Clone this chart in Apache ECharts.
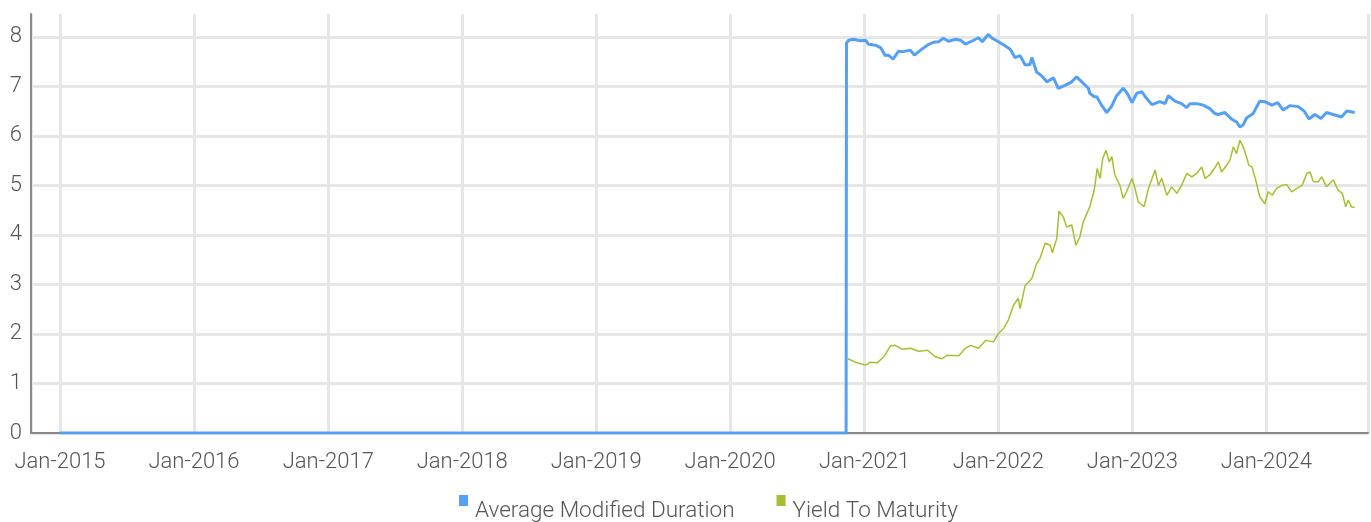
<!DOCTYPE html>
<html>
<head>
<meta charset="utf-8">
<script src="https://cdn.jsdelivr.net/npm/echarts@6/dist/echarts.min.js"></script>
<style>
  html, body { margin: 0; padding: 0; background: #fff; }
  #chart { width: 1371px; height: 522px; }
</style>
</head>
<body>
<div id="chart"></div>
<script>
var seriesNames = ['Average Modified Duration', 'Yield To Maturity']

var durationDates = [
  '2015-01-01', '2020-11-12', '2020-11-13', '2020-11-19', '2020-12-02', '2020-12-21',
  '2021-01-04', '2021-01-12', '2021-01-31', '2021-02-14', '2021-02-27', '2021-03-07',
  '2021-03-20', '2021-04-04', '2021-04-17', '2021-05-06', '2021-05-17', '2021-06-03',
  '2021-06-21', '2021-07-08', '2021-07-22', '2021-08-04', '2021-08-18', '2021-09-06',
  '2021-09-20', '2021-10-03', '2021-10-17', '2021-11-08', '2021-11-18', '2021-12-04',
  '2021-12-15', '2022-01-01', '2022-01-19', '2022-02-02', '2022-02-15', '2022-03-01',
  '2022-03-15', '2022-03-28', '2022-04-02', '2022-04-15', '2022-04-29', '2022-05-13',
  '2022-05-31', '2022-06-13', '2022-07-01', '2022-07-18', '2022-08-02', '2022-08-16',
  '2022-09-03', '2022-09-07', '2022-09-19', '2022-09-26', '2022-10-09', '2022-10-23',
  '2022-11-05', '2022-11-19', '2022-12-07', '2022-12-18', '2022-12-31', '2023-01-13',
  '2023-01-27', '2023-02-05', '2023-02-23', '2023-03-17', '2023-03-31', '2023-04-09',
  '2023-04-27', '2023-05-15', '2023-05-29', '2023-06-07', '2023-06-25', '2023-07-13',
  '2023-07-31', '2023-08-14', '2023-08-23', '2023-09-10', '2023-09-28', '2023-10-12',
  '2023-10-21', '2023-10-30', '2023-11-08', '2023-11-26', '2023-12-14', '2023-12-28',
  '2024-01-16', '2024-02-01', '2024-02-16', '2024-03-05', '2024-03-28', '2024-04-13',
  '2024-04-26', '2024-05-12', '2024-05-29', '2024-06-13', '2024-07-01', '2024-07-24',
  '2024-08-07', '2024-08-29'
]
var durationValues = [
  0, 0, 7.87, 7.93, 7.95, 7.92,
  7.93, 7.85, 7.83, 7.78, 7.62, 7.63,
  7.55, 7.71, 7.70, 7.73, 7.63, 7.73,
  7.83, 7.89, 7.90, 7.97, 7.91, 7.95,
  7.93, 7.85, 7.90, 7.98, 7.90, 8.05,
  7.97, 7.90, 7.82, 7.75, 7.58, 7.62,
  7.43, 7.44, 7.58, 7.29, 7.21, 7.09,
  7.17, 6.96, 7.02, 7.08, 7.19, 7.09,
  6.96, 6.86, 6.79, 6.79, 6.62, 6.47,
  6.59, 6.81, 6.96, 6.86, 6.67, 6.86,
  6.89, 6.79, 6.63, 6.69, 6.65, 6.81,
  6.70, 6.65, 6.57, 6.65, 6.65, 6.62,
  6.55, 6.45, 6.43, 6.47, 6.34, 6.28,
  6.18, 6.22, 6.36, 6.45, 6.70, 6.69,
  6.62, 6.67, 6.52, 6.61, 6.59, 6.50,
  6.34, 6.43, 6.35, 6.47, 6.43, 6.38,
  6.50, 6.47
]

var yieldDates = [
  '2020-11-17', '2020-12-07', '2021-01-04', '2021-01-17', '2021-02-05', '2021-02-23',
  '2021-03-13', '2021-03-26', '2021-04-14', '2021-05-06', '2021-05-29', '2021-06-22',
  '2021-07-13', '2021-08-01', '2021-08-14', '2021-09-15', '2021-10-03', '2021-10-17',
  '2021-10-21', '2021-11-08', '2021-11-27', '2021-12-19', '2022-01-01', '2022-01-15',
  '2022-01-28', '2022-02-11', '2022-02-24', '2022-03-01', '2022-03-15', '2022-04-02',
  '2022-04-15', '2022-04-24', '2022-05-08', '2022-05-22', '2022-05-28', '2022-06-09',
  '2022-06-15', '2022-06-27', '2022-07-06', '2022-07-20', '2022-07-31', '2022-08-11',
  '2022-08-20', '2022-09-03', '2022-09-07', '2022-09-12', '2022-09-18', '2022-09-21',
  '2022-09-27', '2022-10-05', '2022-10-12', '2022-10-21', '2022-10-30', '2022-11-06',
  '2022-11-14', '2022-11-28', '2022-12-07', '2022-12-16', '2022-12-31', '2023-01-08',
  '2023-01-17', '2023-02-02', '2023-02-14', '2023-03-04', '2023-03-13', '2023-03-22',
  '2023-04-05', '2023-04-18', '2023-05-02', '2023-05-15', '2023-05-29', '2023-06-12',
  '2023-06-25', '2023-07-09', '2023-07-18', '2023-07-31', '2023-08-14', '2023-08-23',
  '2023-09-01', '2023-09-15', '2023-09-24', '2023-10-03', '2023-10-12', '2023-10-21',
  '2023-10-30', '2023-11-08', '2023-11-14', '2023-11-23', '2023-12-03', '2023-12-14',
  '2023-12-28', '2024-01-06', '2024-01-17', '2024-01-29', '2024-02-12', '2024-02-25',
  '2024-03-10', '2024-03-24', '2024-04-08', '2024-04-20', '2024-04-29', '2024-05-08',
  '2024-05-21', '2024-05-31', '2024-06-13', '2024-07-01', '2024-07-15', '2024-07-26',
  '2024-08-04', '2024-08-11', '2024-08-20', '2024-08-29'
]
var yieldValues = [
  1.50, 1.43, 1.37, 1.43, 1.42, 1.54,
  1.76, 1.77, 1.69, 1.71, 1.65, 1.67,
  1.54, 1.50, 1.57, 1.56, 1.71, 1.77,
  1.81, 1.71, 1.87, 1.84, 2.01, 2.11,
  2.28, 2.58, 2.72, 2.51, 2.98, 3.12,
  3.42, 3.52, 3.83, 3.79, 3.64, 3.93,
  4.48, 4.36, 4.16, 4.20, 3.79, 3.96,
  4.26, 4.50, 4.57, 4.60, 4.87, 5.00,
  5.34, 5.14, 5.54, 5.71, 5.47, 5.58,
  5.21, 5.00, 4.74, 4.87, 5.14, 4.94,
  4.67, 4.57, 4.94, 5.31, 5.00, 5.14,
  4.80, 4.97, 4.84, 5.00, 5.24, 5.17,
  5.24, 5.37, 5.14, 5.21, 5.36, 5.47,
  5.27, 5.41, 5.51, 5.78, 5.64, 5.91,
  5.78, 5.58, 5.41, 5.37, 5.11, 4.77,
  4.63, 4.87, 4.80, 4.94, 5.00, 5.02,
  4.87, 4.94, 5.00, 5.24, 5.27, 5.08,
  5.07, 5.17, 4.97, 5.11, 4.90, 4.84,
  4.57, 4.70, 4.57, 4.55
]

var yTicks = [0, 1, 2, 3, 4, 5, 6, 7, 8]

function zip (dates, values) {
  var out = []
  for (var i = 0; i < dates.length; i++) {
    out.push([dates[i], values[i]])
  }
  return out
}

var fontFamily = 'Roboto, "Noto Sans", sans-serif'
var textColor = '#555'
var gridColor = '#e6e6e6'
// square on top, invisible speck at the bottom so the marker sits above the text centre
var legendIcon = 'path://M0,0H9V11H0Z M0,31.99H0.01V32H0Z'

var myChart = echarts.init(document.getElementById('chart'))
var option = {
  animation: false,
  color: ['#559ff5', '#a8be32'],
  grid: {
    left: 31,
    right: 3,
    top: 14,
    bottom: 89,
    containLabel: false
  },
  legend: {
    data: seriesNames,
    left: 459,
    top: 495,
    padding: 0,
    icon: legendIcon,
    itemWidth: 9,
    itemHeight: 32,
    itemGap: 42,
    textStyle: {
      fontFamily: fontFamily,
      fontWeight: 300,
      fontSize: 22.5,
      color: textColor,
      padding: [0, 0, 0, 2]
    }
  },
  xAxis: {
    type: 'time',
    min: '2014-10-14',
    max: '2024-10-04',
    offset: 2,
    minInterval: 365 * 24 * 3600 * 1000,
    maxInterval: 366 * 24 * 3600 * 1000,
    axisLine: {
      lineStyle: { color: '#888', width: 2 }
    },
    axisTick: { show: false },
    splitLine: {
      show: true,
      lineStyle: { color: gridColor, width: 3 }
    },
    axisLabel: {
      margin: 16,
      fontFamily: fontFamily,
      fontWeight: 300,
      fontSize: 22,
      color: textColor,
      showMinLabel: false,
      showMaxLabel: false,
      formatter: function (value) {
        var d = new Date(value)
        return 'Jan-' + d.getFullYear()
      }
    }
  },
  yAxis: {
    type: 'value',
    min: yTicks[0],
    max: 8.46,
    interval: 1,
    axisLine: {
      show: true,
      lineStyle: { color: '#888', width: 2 }
    },
    axisTick: { show: false },
    splitLine: {
      show: true,
      showMaxLine: false,
      lineStyle: { color: gridColor, width: 3 }
    },
    axisLabel: {
      margin: 9,
      fontFamily: fontFamily,
      fontWeight: 300,
      fontSize: 22,
      color: textColor,
      showMaxLabel: false
    }
  },
  series: [
    {
      name: seriesNames[0],
      type: 'line',
      showSymbol: false,
      symbol: 'none',
      data: zip(durationDates, durationValues),
      lineStyle: { width: 3 },
      z: 3
    },
    {
      name: seriesNames[1],
      type: 'line',
      showSymbol: false,
      symbol: 'none',
      data: zip(yieldDates, yieldValues),
      lineStyle: { width: 1.5 },
      z: 2
    }
  ]
}
myChart.setOption(option)
</script>
</body>
</html>
